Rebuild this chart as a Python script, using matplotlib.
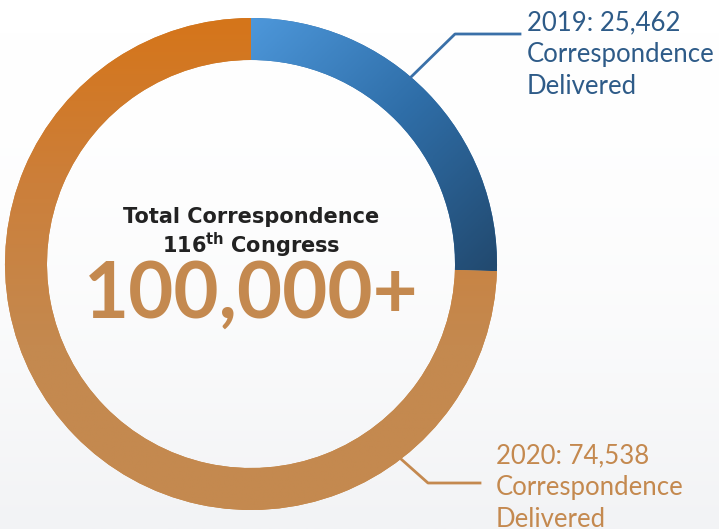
#!/usr/bin/env python3
"""
Donut chart of correspondence delivered in the 116th Congress
"""
import matplotlib.pyplot as plt
import numpy as np
from matplotlib.colors import LinearSegmentedColormap

# Data
years = ["2019", "2020"]
delivered = [25462, 74538]
total_text = "100,000+"
title_lines = ["Total Correspondence", "$\\mathbf{116^{th}\\ Congress}$"]

# Constants (pixel coordinates, y measured from the bottom)
W, H = 719, 529
CENTER = (251, 265)
RADIUS = 246
RING_WIDTH = 42
FONT = "Lato"
TITLE_FONT = "DejaVu Sans"
BLUE_TEXT = "#2e5b88"
ORANGE_TEXT = "#c4894f"
BLUE_CMAP = LinearSegmentedColormap.from_list("blue", ["#4d97da", "#2f6ea8", "#224a70"])
ORANGE_CMAP = LinearSegmentedColormap.from_list("orange", ["#d5751a", "#cc7f3a", "#c4894f", "#c4894f"])

fig = plt.figure(figsize=(W / 100, H / 100), dpi=100)
ax = fig.add_axes([0, 0, 1, 1])

# faint grey wash towards the bottom of the page
bg = np.linspace(0, 1, 200).reshape(-1, 1) ** 2
bg_cmap = LinearSegmentedColormap.from_list("bg", ["#ffffff", "#f2f3f5"])
ax.imshow(bg, extent=(0, W, 0, H), cmap=bg_cmap, aspect="auto", zorder=0)

wedges, _ = ax.pie(
    delivered,
    center=CENTER,
    radius=RADIUS,
    startangle=90,
    counterclock=False,
    wedgeprops=dict(width=RING_WIDTH, linewidth=0),
    colors=["#2f6ea8", "#c8843f"],
)

# gradient fills clipped to each wedge
xx, yy = np.meshgrid(np.linspace(0, W, 400), np.linspace(0, H, 300))
cx, cy = CENTER
t_blue = ((xx - cx) + (cy + RADIUS - yy)) / (2 * RADIUS)
t_orange = (cy + RADIUS - yy) / (2 * RADIUS)
for wedge, t, cmap in zip(wedges, [t_blue, t_orange], [BLUE_CMAP, ORANGE_CMAP]):
    im = ax.imshow(
        np.clip(t, 0, 1),
        extent=(0, W, 0, H),
        origin="lower",
        cmap=cmap,
        vmin=0,
        vmax=1,
        aspect="auto",
        zorder=2,
    )
    im.set_clip_path(wedge)

# leader lines
ax.plot([410, 455, 520], [H - 78, H - 34, H - 34], color="#3a70a8", lw=2, zorder=3)
ax.plot([401, 428, 480], [H - 459, H - 483, H - 483], color=ORANGE_TEXT, lw=2, zorder=3)

# side labels
labels = [
    (f"{years[0]}: {delivered[0]:,}", 527, 30, BLUE_TEXT),
    (f"{years[1]}: {delivered[1]:,}", 496, 463, ORANGE_TEXT),
]
for first, x, base, color in labels:
    for i, line in enumerate([first, "Correspondence", "Delivered"]):
        ax.text(
            x,
            H - base - i * 32,
            line,
            color=color,
            fontsize=18.5,
            family=FONT,
            ha="left",
            va="baseline",
            zorder=4,
        )

# centre text
ax.text(cx, H - 223, title_lines[0], ha="center", va="baseline",
        fontsize=15, fontweight="bold", family=TITLE_FONT, color="#222222", zorder=4)
ax.text(cx, H - 253, title_lines[1], ha="center", va="baseline",
        fontsize=15, color="#222222", zorder=4)
ax.text(cx, H - 318, total_text, ha="center", va="baseline",
        fontsize=56, fontweight="bold", family=FONT, color=ORANGE_TEXT, zorder=4)

ax.set_xlim(0, W)
ax.set_ylim(0, H)
ax.set_aspect("auto")
ax.axis("off")

plt.savefig("out.png", dpi=100)
